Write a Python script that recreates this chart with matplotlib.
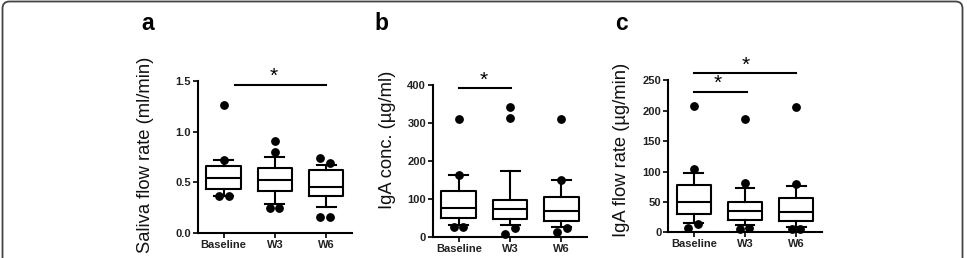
import matplotlib
matplotlib.use('Agg')
import matplotlib.pyplot as plt
import matplotlib.patches as mpatches

plt.rcParams['font.family'] = ['Liberation Sans', 'DejaVu Sans']

groups = ['Baseline', 'W3', 'W6']

# a: saliva flow rate (ml/min)
saliva_med = [0.545, 0.52, 0.455]
saliva_q1 = [0.434, 0.414, 0.36]
saliva_q3 = [0.66, 0.645, 0.625]
saliva_lo = [0.365, 0.29, 0.26]
saliva_hi = [0.72, 0.75, 0.675]
saliva_dots = [[1.26, 0.72, 0.36, 0.36], [0.91, 0.80, 0.25, 0.25], [0.74, 0.69, 0.155, 0.155]]

# b: IgA concentration (ug/ml)
conc_med = [77, 73, 68]
conc_q1 = [51, 46.5, 42]
conc_q3 = [121, 96.5, 106]
conc_lo = [32, 32, 27]
conc_hi = [163, 174, 150]
conc_dots = [[311, 163, 25, 25], [343, 314, 9, 23], [311, 150, 14, 23]]

# c: IgA flow rate (ug/min)
flow_med = [49.8, 34.5, 32.8]
flow_q1 = [29.6, 19.7, 18.6]
flow_q3 = [77.8, 50.4, 57]
flow_lo = [14.8, 12, 9]
flow_hi = [97.5, 73.4, 76]
flow_dots = [[207.7, 104, 7.6, 13.6], [186.4, 80.6, 5, 7], [206, 80, 5, 5]]

# horizontal offsets of the dots so they don't sit on top of each other
saliva_dx = [[0, 0, -0.1, 0.1], [0, 0, -0.09, 0.09], [-0.11, 0.07, -0.11, 0.07]]
conc_dx = [[0, 0, -0.09, 0.09], [0, 0, -0.09, 0.1], [0, 0, -0.09, 0.1]]
flow_dx = [[0, 0, -0.11, 0.085], [0, 0, -0.1, 0.085], [0, 0, -0.08, 0.08]]

LW = 1.5
TICK_COLOR = '#222222'


def draw_panel(fig, rect, med, q1, q3, lo, hi, dots, dx, ylim, yticks, ytick_labels):
    ax = fig.add_axes(rect)
    stats = []
    for i in range(len(groups)):
        stats.append({'med': med[i], 'q1': q1[i], 'q3': q3[i],
                      'whislo': lo[i], 'whishi': hi[i], 'fliers': [], 'label': groups[i]})
    line = dict(color='black', linewidth=LW)
    ax.bxp(stats, positions=[1, 2, 3], widths=0.67, capwidths=0.37, showfliers=False,
           boxprops=line, medianprops=line, whiskerprops=line, capprops=line)
    for i, vals in enumerate(dots):
        xs = [i + 1 + d for d in dx[i]]
        ax.plot(xs, vals, 'o', color='black', markersize=5.3, clip_on=False, zorder=5)
    ax.set_xlim(0.5, 3.5)
    ax.set_ylim(*ylim)
    ax.set_yticks(yticks)
    ax.set_yticklabels(ytick_labels)
    ax.set_xticks([1, 2, 3])
    ax.set_xticklabels(groups)
    for s in ['top', 'right']:
        ax.spines[s].set_visible(False)
    for s in ['left', 'bottom']:
        ax.spines[s].set_linewidth(LW)
    ax.tick_params(length=3.5, width=1.2, pad=1.5, labelsize=8, labelcolor=TICK_COLOR)
    for lab in ax.get_xticklabels() + ax.get_yticklabels():
        lab.set_fontweight('bold')
    return ax


def sig_bar(ax, x1, x2, y, star_x):
    ax.plot([x1, x2], [y, y], color='black', linewidth=LW, clip_on=False)
    ax.annotate('*', xy=(star_x, y), xytext=(0, 6), textcoords='offset points',
                ha='center', va='center', fontsize=15, annotation_clip=False)


def main():
    fig = plt.figure(figsize=(9.67, 2.58), dpi=100)

    ax_a = draw_panel(fig, [0.2048, 0.0973, 0.1589, 0.5884],
                      saliva_med, saliva_q1, saliva_q3, saliva_lo, saliva_hi,
                      saliva_dots, saliva_dx, (0, 1.5), [0, 0.5, 1.0, 1.5],
                      ['0.0', '0.5', '1.0', '1.5'])
    sig_bar(ax_a, 1.23, 3.0, 1.46, 1.97)

    ax_b = draw_panel(fig, [0.4478, 0.0814, 0.1593, 0.5891],
                      conc_med, conc_q1, conc_q3, conc_lo, conc_hi,
                      conc_dots, conc_dx, (0, 400), [0, 100, 200, 300, 400],
                      ['0', '100', '200', '300', '400'])
    sig_bar(ax_b, 1.0, 2.02, 391, 1.49)

    ax_c = draw_panel(fig, [0.6911, 0.0996, 0.1586, 0.5891],
                      flow_med, flow_q1, flow_q3, flow_lo, flow_hi,
                      flow_dots, flow_dx, (0, 250), [0, 50, 100, 150, 200, 250],
                      ['0', '50', '100', '150', '200', '250'])
    sig_bar(ax_c, 1.0, 2.03, 231, 1.47)
    sig_bar(ax_c, 1.0, 3.0, 261.5, 2.02)

    H = 258.0
    W = 967.0
    label_kw = dict(rotation=90, ha='center', va='center', fontsize=13.2, color='#111111')
    fig.text(145 / W, 1 - 155 / H, 'Saliva flow rate (ml/min)', **label_kw)
    fig.text(387 / W, 1 - 140 / H, 'IgA conc. (µg/ml)', **label_kw)
    fig.text(622 / W, 1 - 150 / H, 'IgA flow rate (µg/min)', **label_kw)

    letter_kw = dict(ha='center', va='baseline', fontsize=16.5, fontweight='bold')
    fig.text(147.5 / W, 1 - 30 / H, 'a', **letter_kw)
    fig.text(381.5 / W, 1 - 30 / H, 'b', **letter_kw)
    fig.text(621 / W, 1 - 30 / H, 'c', **letter_kw)

    # rounded frame around the figure, open at the bottom edge
    frame = mpatches.FancyBboxPatch((2.5, -20), 960, 276.5,
                                    boxstyle='round,pad=0,rounding_size=7',
                                    transform=None, fill=False,
                                    edgecolor='#444444', linewidth=1.3)
    fig.add_artist(frame)

    fig.savefig('out.png', dpi=100)


if __name__ == '__main__':
    main()
